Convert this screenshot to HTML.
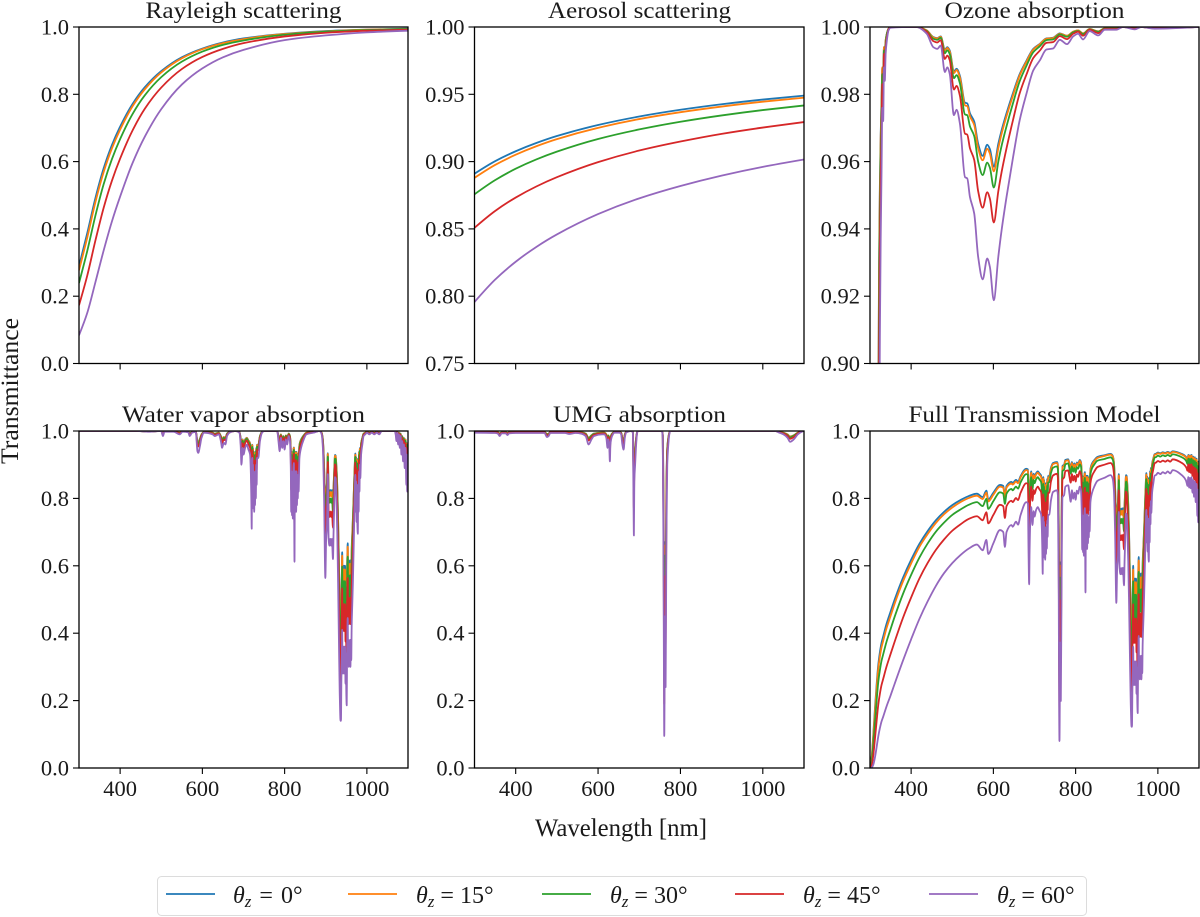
<!DOCTYPE html>
<html lang="en">
<head>
<meta charset="utf-8">
<title>Transmittance model panels</title>
<style>
html,body{margin:0;padding:0;background:#fff;width:1200px;height:917px;overflow:hidden;}
svg{display:block;background:#fff;}
text{font-family:"Liberation Serif",serif;fill:#1a1a1a;}
.title{font-size:23px;text-anchor:middle;}
.tick{font-size:22.5px;}
.axis{font-size:25px;text-anchor:middle;}
.leg{font-size:24px;}
.it{font-style:italic;}
</style>
</head>
<body>
<svg id="chart" xmlns="http://www.w3.org/2000/svg" width="1200" height="917" viewBox="0 0 1200 917">
  <g id="panels"></g>
  <text class="title" x="243.5" y="18" textLength="196" lengthAdjust="spacingAndGlyphs">Rayleigh scattering</text>
  <text class="title" x="639.5" y="18" textLength="183" lengthAdjust="spacingAndGlyphs">Aerosol scattering</text>
  <text class="title" x="1034.5" y="18" textLength="180" lengthAdjust="spacingAndGlyphs">Ozone absorption</text>
  <text class="title" x="243.5" y="422" textLength="243" lengthAdjust="spacingAndGlyphs">Water vapor absorption</text>
  <text class="title" x="639.5" y="422" textLength="173" lengthAdjust="spacingAndGlyphs">UMG absorption</text>
  <text class="title" x="1034.5" y="422" textLength="252" lengthAdjust="spacingAndGlyphs">Full Transmission Model</text>
  <text class="axis" x="621" y="836" textLength="172" lengthAdjust="spacingAndGlyphs">Wavelength [nm]</text>
  <text class="axis" transform="translate(18 391) rotate(-90)" textLength="146" lengthAdjust="spacingAndGlyphs">Transmittance</text>
  <g id="legend">
    <rect x="157.5" y="876.5" width="929" height="39" rx="4" fill="#fff" stroke="#dcdcdc" stroke-width="1"/>
    <g>
      <line x1="166" x2="215" y1="894" y2="894" stroke="#1f77b4" stroke-width="1.8"/>
      <text class="leg" x="233" y="903"><tspan class="it">θ</tspan><tspan class="it" font-size="17" dy="4">z</tspan><tspan dy="-4" dx="2"> = </tspan><tspan dx="2">0°</tspan></text>
    </g>
    <g>
      <line x1="348" x2="397" y1="894" y2="894" stroke="#ff7f0e" stroke-width="1.8"/>
      <text class="leg" x="416" y="903"><tspan class="it">θ</tspan><tspan class="it" font-size="17" dy="4">z</tspan><tspan dy="-4"> = 15°</tspan></text>
    </g>
    <g>
      <line x1="542" x2="591" y1="894" y2="894" stroke="#2ca02c" stroke-width="1.8"/>
      <text class="leg" x="610" y="903"><tspan class="it">θ</tspan><tspan class="it" font-size="17" dy="4">z</tspan><tspan dy="-4"> = 30°</tspan></text>
    </g>
    <g>
      <line x1="735" x2="784" y1="894" y2="894" stroke="#d62728" stroke-width="1.8"/>
      <text class="leg" x="803" y="903"><tspan class="it">θ</tspan><tspan class="it" font-size="17" dy="4">z</tspan><tspan dy="-4"> = 45°</tspan></text>
    </g>
    <g>
      <line x1="929" x2="978" y1="894" y2="894" stroke="#9467bd" stroke-width="1.8"/>
      <text class="leg" x="997" y="903"><tspan class="it">θ</tspan><tspan class="it" font-size="17" dy="4">z</tspan><tspan dy="-4"> = 60°</tspan></text>
    </g>
  </g>
</svg>
<script>
const xTickValues=[400,600,800,1000];
const xTickLabels=["400","600","800","1000"];
const unitTickValues=[0,0.2,0.4,0.6,0.8,1];
const unitTickLabels=["0.0","0.2","0.4","0.6","0.8","1.0"];
const aerosolTickValues=[0.75,0.8,0.85,0.9,0.95,1];
const aerosolTickLabels=["0.75","0.80","0.85","0.90","0.95","1.00"];
const ozoneTickValues=[0.9,0.92,0.94,0.96,0.98,1];
const ozoneTickLabels=["0.90","0.92","0.94","0.96","0.98","1.00"];
const zenithAngles=["0","15","30","45","60"];
const seriesColors=["#1f77b4","#ff7f0e","#2ca02c","#d62728","#9467bd"];

const rayleighWavelength=[300,320,340,360,380,400,430,460,500,550,600,650,700,800,900,1000,1100];
const rayleigh0=[.289,.387,.492,.580,.649,.704,.771,.821,.869,.910,.936,.954,.966,.980,.988,.992,.995];
const rayleigh15=[.277,.374,.480,.569,.639,.695,.764,.815,.865,.907,.934,.952,.964,.979,.987,.992,.994];
const rayleigh30=[.239,.334,.440,.533,.607,.667,.741,.797,.851,.897,.927,.947,.960,.977,.986,.991,.994];
const rayleigh45=[.173,.261,.366,.463,.543,.609,.692,.757,.820,.875,.911,.935,.952,.972,.983,.989,.992];
const rayleigh60=[.084,.150,.242,.336,.422,.496,.595,.674,.756,.829,.877,.910,.932,.961,.975,.984,.989];

const aerosolWavelength=[300,350,400,450,500,600,700,800,900,1000,1100];
const aerosol0=[.8910,.9003,.9077,.9138,.9190,.9272,.9335,.9385,.9426,.9461,.9490];
const aerosol15=[.8879,.8975,.9051,.9114,.9167,.9251,.9316,.9367,.9409,.9445,.9475];
const aerosol30=[.8757,.8862,.8947,.9016,.9074,.9168,.9239,.9296,.9343,.9383,.9417];
const aerosol45=[.8508,.8633,.8733,.8815,.8884,.8996,.9082,.9149,.9206,.9253,.9294];
const aerosol60=[.7957,.8123,.8256,.8366,.8459,.8610,.8727,.8819,.8896,.8961,.9016];

const ozoneWavelength=[
300,304,308,312,316,320,322,324,326,328,
330,332,334,336,338,341,345,350,413,438,
454,463.6,472,482,488,494,504,510.5,518.6,531,
536.5,543,553.4,563,574,585,591.5,601,612,620,
632,648,664,680.5,697,713,729,745,761.5,779,
794,806,818,834,855,871,899,915,943.7,960,
992,1100];
const ozone0=[
.02,.12,.34,.55,.73,.88,.93,.953,.968,.978,
.988,.986,.994,.992,.996,.998,.9995,1,1,.999,
.997,.9967,.9972,.9933,.994,.993,.9868,.9876,.9855,.9775,
.9773,.9744,.9719,.9653,.9617,.965,.9637,.9585,.9653,.9693,
.9744,.9805,.986,.99,.9935,.995,.9966,.9968,.9981,.9974,
.9986,.999,.9981,.9994,.9987,.9996,.9996,1,.9996,1,
.9997,1];
const ozone15=[
.017,.11,.33,.54,.72,.875,.927,.951,.967,.977,
.988,.985,.994,.992,.996,.998,.9995,1,1,.999,
.9969,.9966,.9971,.993,.9938,.9927,.9863,.9872,.985,.9767,
.9765,.9735,.9709,.964,.9604,.9638,.9624,.9571,.964,.9683,
.9735,.9798,.9856,.9897,.9933,.9949,.9965,.9967,.998,.9974,
.9986,.999,.9981,.9994,.9987,.9996,.9996,1,.9996,1,
.9997,1];
const ozone30=[
.011,.086,.287,.50,.695,.863,.919,.946,.963,.975,
.986,.984,.993,.991,.995,.998,.9994,1,1,.9988,
.9965,.9962,.9968,.9922,.9931,.9919,.9848,.9857,.9833,.974,
.9738,.9705,.9676,.96,.956,.9597,.9582,.9523,.96,.9647,
.9705,.9775,.9839,.9885,.9925,.9943,.9961,.9963,.9978,.9971,
.9984,.9988,.9979,.9993,.9986,.9995,.9995,1,.9996,1,
.9997,1];
const ozone45=[
.004,.05,.218,.43,.64,.835,.902,.934,.955,.969,
.983,.98,.992,.989,.994,.997,.9993,1,1,.9986,
.9958,.9954,.9961,.9905,.9915,.9901,.9814,.9825,.9796,.9683,
.968,.964,.9605,.9512,.9463,.9509,.949,.9419,.9512,.9569,
.964,.9725,.9803,.9859,.9908,.993,.9953,.9955,.9973,.9964,
.998,.9986,.9974,.9992,.9982,.9994,.9994,1,.9995,1,
.9996,1];
const ozone60=[
.0004,.014,.116,.30,.53,.77,.865,.908,.937,.956,
.976,.972,.988,.984,.992,.996,.999,.9998,1,.998,
.994,.9935,.9945,.9866,.988,.986,.9738,.9754,.9713,.9554,
.955,.9495,.9446,.9317,.925,.9312,.9287,.9188,.9317,.9396,
.9495,.9614,.9723,.9802,.9871,.9901,.9933,.9936,.9962,.9949,
.9972,.998,.9963,.9988,.9975,.9992,.9992,1,.9993,1,
.9995,1];

const waterWavelength=[
300,440,470,500,504,508,530,545,552,566,
569,575,584,588,590,594,598,604,625,630,
640,645,648,652,656,660,666,680,690,693,
695,698,700,704,708,712,
716,718,719,720,721,721.5,722,723,724,725,
726,727,728,729,730,731,732,733,736,740,
745,750,782,785,788,791,794,797,800,803,
806,810,813,815,816,817,818,819,820,821,
822.5,824,825,826,827,828,829,830,831,832,
833,834,836,840,845,853,870,885,890,893,
896,899,901,903,905,907,909,911,913,915,
917.6,919,921,922.5,924,926,928,930,932,934,
936,937,938,939,940,940.7,941.5,942.2,943,944,
945,946,947,948,949,950,951,952,953.5,954.3,
955,956,957,958,959,960,961,962,963,964.6,
966,968,970,972,973,974,975,976,977,978,
979,980,981,982,983,984,986,989,992,996,
1000,1006,1012,1018,1024,1030,1036,1068,1070,1072,
1074,1076,1078,1080,1082,1084,1086,1088,1090,1092,
1094,1096,1097,1098,1099,1100];
const water0=[
1,1,.999,1,.9925,.999,.999,.995,.999,.998,
.9925,.9975,.998,.97,.967,.977,.99,.9975,.995,.9925,
.995,.985,.975,.982,.98,.9925,.9975,1,.9975,.98,
.949,.975,.964,.975,.98,.972,
.964,.933,.894,.843,.949,.959,.883,.949,.877,.938,
.872,.933,.883,.938,.894,.949,.917,.959,.959,.985,
.9975,1,1,.985,.97,.99,.975,.985,.972,.987,
.98,.9925,.985,.943,.872,.938,.866,.933,.86,.938,
.951,.782,.938,.872,.938,.872,.938,.883,.927,.894,
.933,.906,.959,.975,.985,.995,.9975,1,.995,.975,
.894,.751,.825,.849,.934,.825,.812,.825,.812,.825,
.787,.837,.894,.929,.927,.894,.837,.742,.616,.469,
.374,.374,.51,.574,.64,.548,.60,.529,.60,.539,
.60,.529,.60,.5,.583,.469,.431,.60,.667,.574,
.616,.548,.608,.557,.616,.548,.616,.566,.648,.70,
.742,.812,.883,.933,.872,.922,.854,.917,.849,.834,
.917,.872,.938,.906,.949,.927,.964,.98,.9925,.995,
.9975,.995,.9975,.995,.9975,.995,1,1,.995,.985,
.9975,.98,.995,.975,.9925,.964,.985,.954,.98,.943,
.975,.917,.964,.906,.959,.911];
const water15=[
1,1,.999,1,.992,.999,.999,.995,.999,.998,
.992,.997,.998,.968,.966,.976,.99,.997,.995,.992,
.995,.984,.974,.982,.979,.992,.997,1,.997,.979,
.947,.974,.963,.974,.979,.971,
.963,.93,.891,.838,.947,.958,.879,.947,.873,.936,
.868,.93,.879,.936,.891,.947,.914,.958,.958,.984,
.997,1,1,.984,.968,.99,.974,.984,.971,.987,
.979,.992,.984,.942,.868,.936,.862,.93,.856,.936,
.95,.775,.936,.868,.936,.868,.936,.879,.925,.891,
.93,.902,.958,.974,.984,.995,.997,1,.995,.974,
.891,.743,.819,.844,.932,.819,.806,.819,.806,.819,
.781,.832,.891,.927,.925,.891,.832,.734,.606,.457,
.361,.361,.498,.563,.63,.536,.589,.517,.589,.527,
.589,.517,.589,.488,.572,.457,.419,.589,.657,.563,
.606,.536,.598,.545,.606,.536,.606,.555,.638,.691,
.734,.806,.879,.93,.868,.919,.85,.914,.844,.828,
.914,.868,.936,.902,.947,.925,.963,.979,.992,.995,
.997,.995,.997,.995,.997,.995,1,1,.995,.984,
.997,.979,.995,.974,.992,.963,.984,.952,.979,.942,
.974,.914,.963,.902,.958,.908];
const water30=[
1,1,.999,1,.991,.999,.999,.994,.999,.998,
.991,.997,.998,.965,.962,.974,.988,.997,.994,.991,
.994,.983,.971,.98,.977,.991,.997,1,.997,.977,
.941,.971,.959,.971,.977,.968,
.959,.923,.879,.82,.941,.953,.866,.941,.86,.929,
.854,.923,.866,.929,.879,.941,.904,.953,.953,.983,
.997,1,1,.983,.965,.988,.971,.983,.968,.986,
.977,.991,.983,.935,.854,.929,.847,.923,.84,.929,
.944,.753,.929,.854,.929,.854,.929,.866,.917,.879,
.923,.892,.953,.971,.983,.994,.997,1,.994,.971,
.879,.718,.80,.827,.924,.80,.787,.80,.787,.80,
.759,.814,.879,.918,.917,.879,.814,.708,.572,.417,
.321,.321,.459,.527,.598,.499,.554,.48,.554,.489,
.554,.48,.554,.449,.536,.417,.379,.554,.627,.527,
.572,.499,.563,.508,.572,.499,.572,.518,.606,.663,
.708,.787,.866,.923,.854,.91,.834,.904,.827,.81,
.904,.854,.929,.892,.941,.917,.959,.977,.991,.994,
.997,.994,.997,.994,.997,.994,1,1,.994,.983,
.997,.977,.994,.971,.991,.959,.983,.947,.977,.935,
.971,.904,.959,.892,.953,.898];
const water45=[
1,1,.999,1,.989,.999,.999,.993,.999,.997,
.989,.996,.998,.957,.954,.968,.986,.996,.993,.989,
.993,.979,.964,.975,.972,.989,.996,1,.996,.972,
.928,.964,.95,.964,.972,.961,
.95,.906,.854,.785,.928,.943,.839,.928,.831,.913,
.824,.906,.839,.913,.854,.928,.884,.943,.943,.979,
.996,1,1,.979,.957,.986,.964,.979,.961,.982,
.972,.989,.979,.921,.824,.913,.816,.906,.808,.913,
.932,.707,.913,.824,.913,.824,.913,.839,.899,.854,
.906,.869,.943,.964,.979,.993,.996,1,.993,.964,
.854,.667,.761,.793,.908,.761,.745,.761,.745,.761,
.713,.777,.854,.901,.899,.854,.777,.655,.505,.343,
.249,.249,.386,.457,.533,.427,.486,.406,.486,.417,
.486,.406,.486,.375,.466,.343,.304,.486,.564,.457,
.505,.427,.495,.437,.505,.427,.505,.447,.542,.604,
.655,.745,.839,.906,.824,.891,.80,.884,.793,.773,
.884,.824,.913,.869,.928,.899,.95,.972,.989,.993,
.996,.993,.996,.993,.996,.993,1,1,.993,.979,
.996,.972,.993,.964,.989,.95,.979,.936,.972,.921,
.964,.884,.95,.869,.943,.877];
const water60=[
1,1,.998,1,.985,.998,.998,.99,.998,.996,
.985,.995,.997,.94,.935,.955,.98,.995,.99,.985,
.99,.97,.95,.965,.96,.985,.995,1,.995,.96,
.90,.95,.93,.95,.96,.945,
.93,.87,.80,.71,.90,.92,.78,.90,.77,.88,
.76,.87,.78,.88,.80,.90,.84,.92,.92,.97,
.995,1,1,.97,.94,.98,.95,.97,.945,.975,
.96,.985,.97,.89,.76,.88,.75,.87,.74,.88,
.905,.612,.88,.76,.88,.76,.88,.78,.86,.80,
.87,.82,.92,.95,.97,.99,.995,1,.99,.95,
.80,.564,.68,.72,.872,.68,.66,.68,.66,.68,
.62,.70,.80,.863,.86,.80,.70,.55,.38,.22,
.14,.14,.26,.33,.41,.30,.36,.28,.36,.29,
.36,.28,.36,.25,.34,.22,.186,.36,.445,.33,
.38,.30,.37,.31,.38,.30,.38,.32,.42,.49,
.55,.66,.78,.87,.76,.85,.73,.84,.72,.695,
.84,.76,.88,.82,.90,.86,.93,.96,.985,.99,
.995,.99,.995,.99,.995,.99,1,1,.99,.97,
.995,.96,.99,.95,.985,.93,.97,.91,.96,.89,
.95,.84,.93,.82,.92,.83];

const umgWavelength=[
300,350,357,361,366,376,380,384,400,470,
476,480,484,520,530,545,560,570,577,584,
590,610,615,620,623,625,627,628.7,630,634,
640,652,656,659,662,665,668,680,684.5,686,
687,688,690,692,694,696,755,757,759,760,
760.7,762.5,764,766,768,770,773,775,1030,1040,
1050,1060,1066,1075,1085,1095,1100];
const umg0=[
.9975,.997,.996,.9925,.9965,.9965,.994,.9965,.997,.997,
.991,.9925,.997,.997,.9955,.997,.996,.9925,.98,.987,
.9925,.995,.995,.99,.975,.987,.98,.954,.98,.9925,
.9975,.9975,.995,.98,.972,.99,.9975,1,.9975,.894,
.831,.922,.949,.975,.9925,1,1,.99,.775,.50,
.308,.67,.49,.837,.949,.975,.995,1,1,.9975,
.995,.99,.984,.987,.995,.999,1];
const umg15=[
.9974,.997,.996,.992,.996,.996,.994,.996,.997,.997,
.991,.992,.997,.997,.995,.997,.996,.992,.979,.987,
.992,.995,.995,.99,.974,.987,.979,.952,.979,.992,
.997,.997,.995,.979,.971,.99,.997,1,.997,.891,
.825,.919,.947,.974,.992,1,1,.99,.768,.488,
.296,.66,.478,.832,.947,.974,.995,1,1,.997,
.995,.99,.983,.987,.995,.999,1];
const umg30=[
.997,.997,.995,.991,.996,.996,.993,.996,.997,.997,
.99,.991,.997,.997,.995,.997,.995,.991,.977,.986,
.991,.994,.994,.988,.971,.986,.977,.947,.977,.991,
.997,.997,.994,.977,.968,.988,.997,1,.997,.879,
.807,.910,.941,.971,.991,1,1,.988,.745,.449,
.256,.63,.44,.814,.941,.971,.994,1,1,.997,
.994,.988,.981,.986,.994,.999,1];
const umg45=[
.996,.996,.994,.989,.995,.995,.991,.995,.996,.996,
.987,.989,.996,.996,.994,.996,.994,.989,.972,.982,
.989,.993,.993,.986,.964,.982,.972,.936,.972,.989,
.996,.996,.993,.972,.961,.986,.996,1,.996,.854,
.769,.891,.928,.964,.989,1,1,.986,.697,.375,
.189,.569,.365,.777,.928,.964,.993,1,1,.996,
.993,.986,.977,.982,.993,.999,1];
const umg60=[
.995,.994,.992,.985,.993,.993,.988,.993,.994,.994,
.982,.985,.994,.994,.991,.994,.992,.985,.96,.975,
.985,.99,.99,.98,.95,.975,.96,.91,.96,.985,
.995,.995,.99,.96,.945,.98,.995,1,.995,.80,
.69,.85,.90,.95,.985,1,1,.98,.60,.25,
.095,.45,.24,.70,.90,.95,.99,1,1,.995,
.99,.98,.968,.975,.99,.998,1];

const fullWavelength=[
300,304,308,312,316,320,324,328,332,340,
350,360,380,400,420,440,460,480,500,520,
540,560,574,583,587.5,600,616,624,628,632,
644,647,655,660,666,680,684,685.5,687,688,
690,692,693,695,698,700,704,708,712,716,
718,719,720,721,721.5,722,723,724,725,726,
727,728,729,730,731,732,733,736,740,745,
755,757,759,760,760.7,762.5,764,766,768,772,
775,782,785,788,791,794,797,800,803,806,
810,813,815,816,817,818,819,820,821,822.5,
824,825,826,827,828,829,830,831,832,833,
834,836,840,845,853,870,885,890,893,896,
899,901,903,905,907,909,911,913,915,917.6,
919,921,922.5,924,926,928,930,932,934,936,
937,938,939,940,940.7,941.5,942.2,943,944,945,
946,947,948,949,950,951,952,953.5,954.3,955,
956,957,958,959,960,961,962,963,964.6,966,
968,970,972,973,974,975,976,977,978,979,
980,981,982,983,984,986,989,992,996,1000,
1006,1012,1018,1024,1030,1036,1060,1068,1070,1072,
1074,1076,1078,1080,1082,1084,1086,1088,1090,1092,
1094,1096,1097,1098,1099,1100];
const full0=[
.005,.033,.10,.176,.246,.305,.343,.371,.39,.427,
.464,.50,.564,.618,.665,.703,.735,.76,.78,.795,
.807,.814,.804,.823,.797,.817,.84,.837,.81,.837,
.849,.846,.855,.85,.866,.888,.886,.80,.738,.80,
.86,.88,.872,.849,.873,.864,.875,.88,.874,.868,
.84,.805,.759,.854,.863,.795,.855,.79,.845,.786,
.842,.797,.846,.807,.857,.828,.866,.867,.891,.905,
.908,.899,.705,.407,.283,.61,.446,.762,.896,.90,
.914,.916,.902,.889,.908,.894,.904,.892,.907,.902,
.914,.908,.869,.805,.866,.80,.861,.794,.866,.878,
.722,.867,.806,.867,.806,.867,.817,.857,.827,.863,
.838,.888,.904,.913,.923,.928,.932,.927,.909,.834,
.70,.77,.793,.872,.77,.758,.77,.758,.771,.736,
.783,.836,.869,.867,.836,.783,.694,.577,.439,.35,
.35,.478,.538,.60,.513,.562,.496,.562,.505,.562,
.496,.562,.469,.546,.44,.404,.562,.626,.538,.577,
.513,.57,.522,.577,.513,.577,.53,.607,.657,.696,
.762,.828,.875,.818,.865,.801,.86,.796,.782,.86,
.818,.88,.85,.89,.87,.904,.919,.931,.933,.936,
.934,.937,.935,.938,.935,.94,.931,.924,.92,.915,
.929,.912,.928,.911,.929,.904,.924,.897,.922,.888,
.918,.865,.909,.854,.904,.859];
const full15=[
.004,.029,.092,.165,.234,.293,.330,.358,.377,.414,
.451,.488,.553,.607,.656,.694,.727,.753,.773,.789,
.801,.808,.798,.817,.791,.811,.835,.832,.804,.832,
.844,.841,.850,.845,.862,.884,.882,.794,.730,.794,
.855,.876,.868,.844,.869,.860,.871,.876,.870,.864,
.835,.799,.752,.849,.859,.789,.850,.783,.840,.779,
.837,.791,.841,.801,.852,.823,.862,.863,.887,.902,
.905,.896,.697,.394,.271,.600,.433,.755,.893,.897,
.911,.913,.899,.885,.905,.89,.90,.888,.904,.899,
.911,.905,.865,.799,.862,.794,.856,.788,.862,.874,
.714,.863,.80,.863,.80,.863,.811,.852,.822,.859,
.833,.884,.90,.91,.92,.926,.93,.925,.906,.829,
.691,.763,.787,.868,.763,.751,.763,.751,.764,.728,
.776,.831,.865,.863,.831,.776,.685,.566,.426,.337,
.337,.466,.527,.589,.501,.551,.484,.551,.493,.551,
.484,.551,.457,.535,.427,.392,.551,.616,.527,.566,
.501,.559,.510,.566,.501,.566,.518,.596,.648,.687,
.755,.823,.871,.812,.861,.795,.855,.790,.775,.855,
.812,.876,.845,.886,.866,.90,.916,.929,.931,.934,
.932,.935,.933,.936,.933,.938,.929,.922,.917,.912,
.927,.909,.926,.908,.927,.90,.921,.894,.919,.884,
.915,.861,.906,.849,.90,.854];
const full30=[
.002,.019,.070,.134,.198,.254,.290,.318,.337,.374,
.412,.449,.516,.573,.624,.666,.701,.728,.751,.767,
.781,.789,.777,.799,.769,.792,.818,.814,.784,.814,
.828,.824,.835,.829,.847,.872,.870,.773,.704,.773,
.840,.863,.854,.828,.855,.845,.857,.863,.856,.849,
.818,.778,.727,.833,.843,.767,.835,.762,.823,.757,
.820,.769,.824,.781,.837,.804,.847,.848,.875,.891,
.895,.884,.668,.354,.233,.565,.394,.731,.881,.885,
.901,.904,.888,.873,.895,.879,.89,.876,.893,.888,
.901,.895,.85,.778,.847,.773,.841,.766,.847,.861,
.687,.848,.78,.848,.78,.848,.792,.837,.803,.843,
.815,.872,.89,.90,.912,.917,.922,.916,.896,.811,
.662,.739,.765,.854,.739,.726,.739,.726,.74,.702,
.754,.813,.85,.848,.813,.754,.656,.530,.386,.298,
.298,.426,.489,.554,.463,.514,.445,.514,.454,.514,
.445,.514,.417,.497,.387,.351,.514,.582,.489,.530,
.463,.522,.472,.530,.463,.530,.481,.562,.616,.658,
.731,.804,.857,.793,.846,.774,.84,.768,.753,.84,
.793,.863,.829,.874,.851,.89,.907,.921,.923,.927,
.924,.928,.925,.929,.925,.931,.921,.913,.908,.902,
.918,.899,.917,.898,.918,.89,.913,.882,.911,.872,
.906,.846,.896,.833,.89,.839];
const full45=[
.001,.008,.039,.086,.138,.187,.220,.246,.264,.300,
.338,.375,.445,.506,.562,.608,.647,.678,.704,.723,
.739,.747,.735,.759,.726,.751,.781,.777,.742,.777,
.793,.789,.801,.795,.816,.845,.843,.729,.651,.729,
.808,.835,.824,.793,.825,.813,.828,.835,.827,.819,
.781,.736,.677,.80,.812,.723,.801,.717,.788,.711,
.784,.726,.789,.739,.804,.766,.816,.817,.85,.868,
.873,.860,.610,.280,.168,.497,.319,.681,.856,.862,
.881,.883,.864,.847,.872,.853,.867,.85,.871,.864,
.881,.872,.82,.736,.816,.729,.809,.722,.816,.832,
.631,.817,.737,.817,.737,.817,.751,.804,.765,.812,
.779,.845,.867,.879,.893,.90,.905,.898,.874,.774,
.604,.691,.72,.824,.691,.676,.691,.676,.692,.649,
.708,.776,.82,.817,.776,.708,.597,.459,.312,.227,
.227,.352,.416,.486,.389,.443,.371,.443,.381,.443,
.371,.443,.343,.425,.313,.278,.443,.516,.416,.459,
.389,.451,.399,.459,.389,.459,.407,.494,.552,.599,
.681,.766,.828,.753,.815,.731,.808,.724,.706,.808,
.753,.835,.795,.848,.821,.867,.887,.904,.907,.911,
.908,.912,.909,.913,.909,.916,.904,.894,.889,.882,
.901,.878,.90,.876,.901,.867,.894,.857,.891,.845,
.886,.815,.874,.80,.867,.807];
const full60=[
.000,.001,.010,.031,.061,.093,.118,.138,.152,.182,
.215,.25,.318,.382,.442,.494,.540,.578,.608,.632,
.651,.663,.646,.677,.635,.667,.706,.70,.656,.70,
.721,.716,.731,.722,.75,.789,.785,.64,.545,.64,
.74,.774,.76,.721,.762,.746,.766,.774,.764,.753,
.706,.648,.576,.729,.745,.632,.731,.624,.714,.618,
.709,.635,.716,.651,.734,.686,.75,.752,.794,.819,
.824,.808,.497,.166,.08,.372,.199,.581,.803,.81,
.835,.839,.814,.79,.824,.799,.817,.796,.823,.814,
.835,.824,.755,.648,.75,.64,.741,.63,.75,.771,
.521,.752,.65,.752,.65,.752,.667,.734,.684,.745,
.702,.789,.817,.834,.852,.861,.869,.859,.826,.696,
.49,.593,.629,.76,.593,.575,.593,.575,.594,.542,
.613,.699,.755,.752,.699,.613,.482,.333,.193,.1225,
.1225,.228,.289,.36,.263,.316,.246,.316,.255,.316,
.246,.316,.22,.298,.194,.163,.316,.392,.289,.333,
.263,.325,.272,.333,.263,.333,.281,.368,.432,.484,
.581,.686,.766,.669,.748,.642,.74,.634,.612,.74,
.669,.774,.723,.792,.757,.817,.845,.867,.87,.876,
.872,.878,.874,.88,.874,.884,.867,.854,.846,.837,
.863,.832,.861,.83,.863,.817,.854,.805,.85,.789,
.843,.748,.826,.729,.817,.738];

const panelConfigs=[
 {key:"rayleigh",left:79,right:408,top:27,bottom:363.5,yMin:0,yMax:1,yTicks:unitTickValues,yLabels:unitTickLabels,xLabels:false,wave:rayleighWavelength,series:[rayleigh0,rayleigh15,rayleigh30,rayleigh45,rayleigh60]},
 {key:"aerosol",left:474.5,right:804,top:27,bottom:363.5,yMin:0.75,yMax:1,yTicks:aerosolTickValues,yLabels:aerosolTickLabels,xLabels:false,wave:aerosolWavelength,series:[aerosol0,aerosol15,aerosol30,aerosol45,aerosol60]},
 {key:"ozone",left:870,right:1199,top:27,bottom:363.5,yMin:0.9,yMax:1,yTicks:ozoneTickValues,yLabels:ozoneTickLabels,xLabels:false,wave:ozoneWavelength,series:[ozone0,ozone15,ozone30,ozone45,ozone60]},
 {key:"water-vapor",left:79,right:408,top:431,bottom:768,yMin:0,yMax:1,yTicks:unitTickValues,yLabels:unitTickLabels,xLabels:true,wave:waterWavelength,series:[water0,water15,water30,water45,water60]},
 {key:"umg",left:474.5,right:804,top:431,bottom:768,yMin:0,yMax:1,yTicks:unitTickValues,yLabels:unitTickLabels,xLabels:true,wave:umgWavelength,series:[umg0,umg15,umg30,umg45,umg60]},
 {key:"full-model",left:870,right:1199,top:431,bottom:768,yMin:0,yMax:1,yTicks:unitTickValues,yLabels:unitTickLabels,xLabels:true,wave:fullWavelength,series:[full0,full15,full30,full45,full60]}
];

const svgNS="http://www.w3.org/2000/svg";
const root=document.getElementById("panels");
const xDomainMin=300;
const xDomainMax=1100;

function makeX(cfg){return function(v){return cfg.left+(v-xDomainMin)/(xDomainMax-xDomainMin)*(cfg.right-cfg.left);};}
function makeY(cfg){return function(v){return cfg.bottom-(v-cfg.yMin)/(cfg.yMax-cfg.yMin)*(cfg.bottom-cfg.top);};}
function monotonePath(xs,ys){
  const n=xs.length,m=[],t=[];
  for(let i=0;i<n-1;i++){m.push((ys[i+1]-ys[i])/(xs[i+1]-xs[i]));}
  for(let i=1;i<n-1;i++){
    if(m[i-1]*m[i]<=0){t[i]=0;}
    else{
      const d0=xs[i]-xs[i-1],d1=xs[i+1]-xs[i];
      t[i]=3*(d0+d1)/((2*d1+d0)/m[i-1]+(d1+2*d0)/m[i]);
    }
  }
  t[0]=(3*m[0]-t[1])/2;
  t[n-1]=(3*m[n-2]-t[n-2])/2;
  let d="M"+xs[0].toFixed(2)+" "+ys[0].toFixed(2);
  for(let i=0;i<n-1;i++){
    const h=(xs[i+1]-xs[i])/3;
    d+="C"+(xs[i]+h).toFixed(2)+" "+(ys[i]+t[i]*h).toFixed(2)+" "+(xs[i+1]-h).toFixed(2)+" "+(ys[i+1]-t[i+1]*h).toFixed(2)+" "+xs[i+1].toFixed(2)+" "+ys[i+1].toFixed(2);
  }
  return d;
}
function tickMark(parent,x1,y1,x2,y2){
  const t=document.createElementNS(svgNS,"line");
  t.setAttribute("x1",x1);t.setAttribute("y1",y1);t.setAttribute("x2",x2);t.setAttribute("y2",y2);
  t.setAttribute("stroke","#000");t.setAttribute("stroke-width","1.1");
  
  
  parent.appendChild(t);
}

const defs=document.createElementNS(svgNS,"defs");
root.appendChild(defs);

panelConfigs.forEach(function(cfg){
  const x=makeX(cfg),y=makeY(cfg);
  const g=document.createElementNS(svgNS,"g");
  
  
  root.appendChild(g);

  const clip=document.createElementNS(svgNS,"clipPath");
  clip.setAttribute("id","clip-"+cfg.key);
  const cr=document.createElementNS(svgNS,"rect");
  cr.setAttribute("x",cfg.left);cr.setAttribute("y",cfg.top);
  cr.setAttribute("width",cfg.right-cfg.left);cr.setAttribute("height",cfg.bottom-cfg.top);
  clip.appendChild(cr);defs.appendChild(clip);

  const lines=document.createElementNS(svgNS,"g");
  lines.setAttribute("clip-path","url(#clip-"+cfg.key+")");
  
  
  g.appendChild(lines);
  cfg.series.forEach(function(vals,i){
    const xs=vals.map(function(v,j){return x(cfg.wave[j]);});
    const ys=vals.map(function(v){return y(v);});
    const pl=document.createElementNS(svgNS,"path");
    pl.setAttribute("d",monotonePath(xs,ys));
    pl.setAttribute("fill","none");
    pl.setAttribute("stroke",seriesColors[i]);
    pl.setAttribute("stroke-width","1.8");
    pl.setAttribute("stroke-linejoin","round");
    
    
    lines.appendChild(pl);
  });

  const frame=document.createElementNS(svgNS,"rect");
  frame.setAttribute("x",cfg.left);frame.setAttribute("y",cfg.top);
  frame.setAttribute("width",cfg.right-cfg.left);frame.setAttribute("height",cfg.bottom-cfg.top);
  frame.setAttribute("fill","none");frame.setAttribute("stroke","#000");frame.setAttribute("stroke-width","1.3");
  
  
  g.appendChild(frame);

  cfg.yTicks.forEach(function(v,i){
    const py=y(v);
    tickMark(g,cfg.left-6,py,cfg.left,py);
    const t=document.createElementNS(svgNS,"text");
    t.setAttribute("class","tick");
    t.setAttribute("x",cfg.left-10);
    t.setAttribute("y",py+7.5);
    t.setAttribute("text-anchor","end");
    t.textContent=cfg.yLabels[i];
    
    
    g.appendChild(t);
  });
  xTickValues.forEach(function(v,i){
    const px=x(v);
    tickMark(g,px,cfg.bottom,px,cfg.bottom+6);
    if(cfg.xLabels){
      const t=document.createElementNS(svgNS,"text");
      t.setAttribute("class","tick");
      t.setAttribute("x",px);
      t.setAttribute("y",cfg.bottom+28);
      t.setAttribute("text-anchor","middle");
      t.textContent=xTickLabels[i];
      
      
      g.appendChild(t);
    }
  });
});
</script>
</body>
</html>
